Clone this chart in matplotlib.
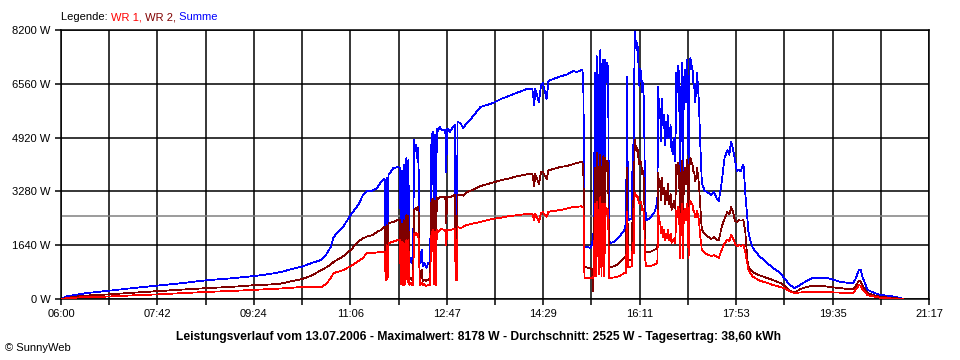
import matplotlib
matplotlib.use("Agg")
import matplotlib.pyplot as plt
import numpy as np

plt.rcParams['font.family'] = ['Liberation Sans', 'DejaVu Sans']

# ---------------- data ----------------
times = [
    # morning
    "06:00", "06:03", "06:06", "06:10", "06:20", "06:30", "06:50", "07:15", "07:42", "08:10",
    "08:33", "09:00", "09:24", "09:40", "09:52", "10:05", "10:15", "10:25", "10:35", "10:40",
    "10:45", "10:48", "10:58", "11:06", "11:14", "11:19", "11:23", "11:29", "11:34", "11:38",
    "11:41",
    # clouds around noon
    "11:42", "11:43", "11:44", "11:45", "11:46", "11:51", "11:56", "11:58", "11:59", "12:00",
    "12:01", "12:02", "12:03", "12:04", "12:05", "12:06", "12:07", "12:08", "12:09", "12:10",
    "12:11", "12:12", "12:13", "12:14", "12:15", "12:16", "12:17", "12:18", "12:19", "12:21",
    "12:22", "12:24", "12:26", "12:28", "12:30", "12:31", "12:32", "12:33", "12:34", "12:35",
    "12:36", "12:37", "12:38", "12:40", "12:42", "12:46", "12:47", "12:48", "12:51", "12:54",
    "12:56", "12:57", "12:58", "12:59", "13:02", "13:05", "13:08", "13:12",
    # clear early afternoon
    "13:23", "13:36", "13:45", "13:54", "14:03", "14:12", "14:18", "14:20", "14:21", "14:25",
    "14:27", "14:29", "14:33", "14:35", "14:47", "14:55", "15:01", "15:05", "15:10",
    # clouds in the afternoon
    "15:11", "15:12", "15:13", "15:19", "15:21", "15:22", "15:23", "15:24", "15:25", "15:26",
    "15:27", "15:28", "15:29", "15:30", "15:31", "15:32", "15:33", "15:34", "15:35", "15:36",
    "15:37", "15:38", "15:39", "15:40", "15:45", "15:50", "15:55", "15:57", "15:58", "15:59",
    "16:00", "16:03", "16:04", "16:05", "16:06", "16:07", "16:08", "16:09", "16:10", "16:11",
    "16:12", "16:13", "16:14", "16:15", "16:16", "16:17", "16:18", "16:22", "16:27", "16:30",
    "16:31", "16:32", "16:33", "16:34", "16:35", "16:36", "16:37", "16:38", "16:39", "16:40",
    "16:41", "16:42", "16:43", "16:44", "16:45", "16:46", "16:47", "16:48", "16:49", "16:50",
    "16:51", "16:52", "16:53", "16:54", "16:55", "16:56", "16:57", "16:58", "16:59", "17:00",
    "17:01", "17:02", "17:03", "17:04", "17:05", "17:06", "17:07", "17:08", "17:09", "17:10",
    "17:11", "17:12", "17:14", "17:15",
    # evening
    "17:17", "17:20", "17:24", "17:27", "17:30", "17:33", "17:35", "17:38", "17:41", "17:44",
    "17:46", "17:48", "17:50", "17:52", "17:54", "17:56", "17:58", "18:01", "18:03", "18:05",
    "18:06", "18:08", "18:11", "18:18", "18:26", "18:32", "18:40", "18:45", "18:50", "18:55",
    "19:01", "19:08", "19:14", "19:22", "19:29", "19:37", "19:43", "19:50", "19:57", "20:00",
    "20:03", "20:05", "20:07", "20:12", "20:18", "20:25", "20:36", "20:44", "20:50",
]

summe = [
    0, 30, 80, 100, 150, 190, 250, 330, 410, 490,
    570, 630, 700, 760, 820, 920, 990, 1100, 1190, 1350,
    1590, 1890, 2200, 2560, 2865, 3170, 3300, 3300, 3380, 3570,
    3650,
    3650, 1500, 3700, 1500, 3780, 3990, 4020, 4000, 1700, 3900,
    1200, 4100, 1100, 4200, 4300, 1500, 4250, 1100, 1150, 1250,
    1100, 1150, 4850, 4500, 4700, 4300, 4600, 3800, 1100, 1500,
    1000, 1100, 950, 1100, 1000, 4600, 5000, 5100, 1100, 5000,
    1000, 5200, 5100, 5240, 5150, 5150, 3870, 5200, 5100, 5250,
    5300, 1500, 1200, 5400, 5360, 5200, 5350, 5450,
    5850, 5970, 6100, 6200, 6300, 6400, 6400, 5900, 6400, 6000,
    6500, 6580, 6100, 6650, 6780, 6850, 6950, 6920, 6980,
    6950, 6200, 1600, 1560, 1650, 1900, 2100, 6900, 2000, 7400,
    6800, 2100, 7500, 7600, 2400, 7000, 7300, 2100, 7300, 6600,
    7200, 7000, 1800, 1700, 1750, 1900, 2100, 2300, 6770, 2500,
    2410, 2450, 4700, 3600, 8178, 7900, 7600, 7800, 7200, 6500,
    7000, 6900, 6300, 6600, 5800, 3000, 2400, 2450, 2650, 2930,
    6460, 5500, 5800, 4800, 6100, 5300, 5600, 4700, 5400, 4900,
    5600, 5000, 4900, 5300, 4500, 4800, 4400, 4900, 4200, 6900,
    6300, 7100, 6800, 3000, 6000, 7200, 3300, 6500, 7000, 6000,
    7300, 6800, 3800, 7100, 7350, 7000, 7100, 6600, 6500, 6000,
    6400, 6900, 5970, 5000,
    3540, 3300, 3230, 3170, 3260, 3050, 2990, 3570, 4300, 4540,
    4400, 4800, 4550, 4250, 3900, 3950, 3900, 4100, 3200, 2500,
    2100, 1800, 1550, 1300, 1100, 950, 790, 600, 430, 330,
    430, 560, 640, 640, 640, 580, 520, 500, 480, 650,
    900, 880, 650, 280, 200, 130, 90, 50, 0,
]

wr2 = [
    0, 15, 40, 50, 90, 110, 140, 190, 240, 290,
    330, 370, 420, 440, 470, 550, 610, 720, 880, 960,
    1050, 1130, 1300, 1490, 1750, 1850, 1900, 1950, 2050, 2100,
    2200,
    2200, 580, 2250, 600, 2310, 2350, 2410, 2400, 700, 2300,
    600, 2400, 550, 2500, 2560, 700, 2550, 580, 600, 650,
    580, 580, 2700, 2750, 2770, 2700, 2800, 2600, 580, 900,
    550, 600, 550, 600, 580, 2900, 3000, 3050, 600, 3000,
    600, 3100, 3050, 3100, 3100, 3110, 2300, 3110, 3100, 3150,
    3170, 580, 580, 3170, 3170, 3150, 3250, 3290,
    3440, 3550, 3620, 3680, 3750, 3800, 3810, 3450, 3810, 3500,
    3860, 3890, 3650, 3920, 4020, 4060, 4110, 4150, 4180,
    4150, 3700, 975, 945, 900, 250, 1000, 4000, 1000, 4450,
    4000, 900, 4400, 4300, 1000, 4200, 4350, 900, 4300, 3900,
    4200, 4100, 1000, 975, 1000, 1100, 1250, 1300, 4000, 1200,
    1190, 1200, 3000, 2200, 4850, 4700, 4500, 4600, 4300, 4100,
    4200, 4150, 3800, 3900, 3500, 1500, 1430, 1430, 1500, 1550,
    3840, 3400, 3600, 3000, 3700, 3200, 3400, 2900, 3300, 3000,
    3500, 2900, 3000, 3200, 2700, 2900, 2800, 3000, 2750, 4100,
    3800, 4150, 4000, 1800, 3600, 4200, 1450, 3700, 4000, 3500,
    4240, 4100, 1400, 4150, 4300, 4100, 4150, 3900, 3850, 3600,
    3700, 4000, 3500, 3000,
    2100, 2000, 1890, 1830, 1890, 1800, 1790, 2200, 2450, 2650,
    2580, 2800, 2650, 2380, 2350, 2400, 2390, 2400, 2020, 1250,
    1000, 900, 820, 720, 640, 580, 488, 400, 250, 200,
    300, 370, 400, 400, 380, 350, 330, 310, 300, 420,
    560, 520, 400, 183, 120, 70, 40, 20, 0,
]

wr1 = [
    0, 10, 25, 30, 50, 60, 75, 110, 140, 180,
    215, 245, 280, 300, 320, 345, 366, 366, 366, 450,
    640, 790, 880, 1000, 1150, 1250, 1400, 1400, 1420, 1430,
    1450,
    1450, 580, 1650, 600, 1700, 1750, 1800, 1800, 450, 1750,
    430, 1700, 430, 1750, 1800, 500, 1800, 430, 450, 500,
    430, 430, 2000, 1950, 2010, 1950, 2000, 1800, 430, 500,
    430, 450, 400, 430, 430, 1900, 2050, 2100, 450, 2050,
    430, 2100, 2050, 2100, 2130, 2100, 1650, 2100, 2100, 2130,
    2150, 580, 580, 2200, 2160, 2200, 2250, 2280,
    2350, 2440, 2480, 2530, 2560, 2590, 2600, 2400, 2600, 2350,
    2620, 2650, 2500, 2660, 2710, 2760, 2800, 2810, 2830,
    2800, 2800, 640, 640, 640, 650, 700, 2900, 700, 2950,
    2700, 750, 3000, 3100, 700, 2800, 2900, 700, 2900, 2600,
    2750, 2700, 650, 640, 660, 700, 790, 800, 2650, 975,
    975, 1000, 1700, 1400, 3230, 3200, 3100, 3150, 3000, 2900,
    2950, 2950, 2700, 2750, 2500, 1300, 1000, 1000, 1050, 1100,
    2700, 2300, 2350, 2000, 2200, 1900, 2100, 1800, 2000, 1850,
    2100, 1800, 1800, 2000, 1700, 1800, 1750, 1850, 1700, 2700,
    2500, 2800, 2700, 1250, 2400, 2900, 1250, 2600, 2750, 2400,
    2900, 2800, 1250, 2850, 3000, 2900, 2900, 2700, 2650, 2500,
    2500, 2700, 2400, 2000,
    1500, 1400, 1340, 1310, 1340, 1280, 1250, 1500, 1700, 1800,
    1750, 1950, 1850, 1700, 1600, 1650, 1620, 1640, 1420, 1100,
    900, 800, 680, 560, 490, 430, 366, 320, 230, 180,
    200, 210, 215, 215, 210, 200, 190, 185, 183, 300,
    420, 400, 280, 120, 80, 40, 20, 10, 0,
]

x_tick_labels = ["06:00", "07:42", "09:24", "11:06", "12:47",
                 "14:29", "16:11", "17:53", "19:35", "21:17"]
y_ticks = [0, 1640, 3280, 4920, 6560, 8200]
average_w = 2525
title = ("Leistungsverlauf vom 13.07.2006 - Maximalwert: 8178 W - "
         "Durchschnitt: 2525 W - Tagesertrag: 38,60 kWh")

assert len(times) == len(summe) == len(wr1) == len(wr2), \
    (len(times), len(summe), len(wr1), len(wr2))


def to_min(s):
    h, m = s.split(":")
    return int(h) * 60 + int(m)


t = np.array([to_min(s) for s in times], dtype=float)

# ---------------- figure ----------------
fig = plt.figure(figsize=(9.6, 3.6), dpi=100)
fig.patch.set_facecolor("white")
ax = fig.add_axes([61 / 960, 61 / 360, 868 / 960, 269 / 360])
ax.set_facecolor("white")

x0, x1 = to_min(x_tick_labels[0]), to_min(x_tick_labels[-1])
major = np.linspace(x0, x1, len(x_tick_labels))
minor = (major[:-1] + major[1:]) / 2
ax.set_xlim(x0, x1)
ax.set_ylim(y_ticks[0], y_ticks[-1])
ax.set_xticks(major)
ax.set_xticklabels(x_tick_labels)
ax.set_xticks(minor, minor=True)
ax.set_yticks(y_ticks)
ax.set_yticklabels([f"{v} W" for v in y_ticks])

glw = 1.1
ax.set_axisbelow(True)
ax.grid(True, which="both", axis="x", color="black", lw=glw, zorder=0)
ax.grid(True, which="major", axis="y", color="black", lw=glw, zorder=0)
for sp in ax.spines.values():
    sp.set_color("black")
    sp.set_linewidth(glw)
ax.tick_params(which="both", direction="out", length=4.5, width=glw,
               color="black", labelsize=8, pad=3)

ax.axhline(average_w, color="#808080", lw=glw, zorder=1)

lw = 0.55
ax.plot(t, summe, color="#0000ff", lw=lw, zorder=2, antialiased=False)
ax.plot(t, wr2, color="#800000", lw=lw, zorder=3, antialiased=False)
ax.plot(t, wr1, color="#ff0000", lw=lw, zorder=4, antialiased=False)

# legend line on top
ly = (360 - 17) / 360
t1 = fig.text(61 / 960, ly, "Legende: ", fontsize=8, va="center", color="black")
a1 = ax.annotate("WR 1,", xy=(1, 0), xycoords=t1, va="bottom", ha="left",
                 fontsize=8, color="#ff0000", annotation_clip=False)
a2 = ax.annotate(" WR 2,", xy=(1, 0), xycoords=a1, va="bottom", ha="left",
                 fontsize=8, color="#800000", annotation_clip=False)
a3 = ax.annotate(" Summe", xy=(1, 0), xycoords=a2, va="bottom", ha="left",
                 fontsize=8, color="#0000ff", annotation_clip=False)

fig.text(479 / 960, (360 - 337) / 360, title, ha="center", va="center",
         fontsize=8.7, fontweight="bold", color="black")
fig.text(5 / 960, (360 - 348) / 360, "\u00a9 SunnyWeb", ha="left", va="center",
         fontsize=8, color="black")

fig.savefig("out.png", dpi=100, facecolor="white")
